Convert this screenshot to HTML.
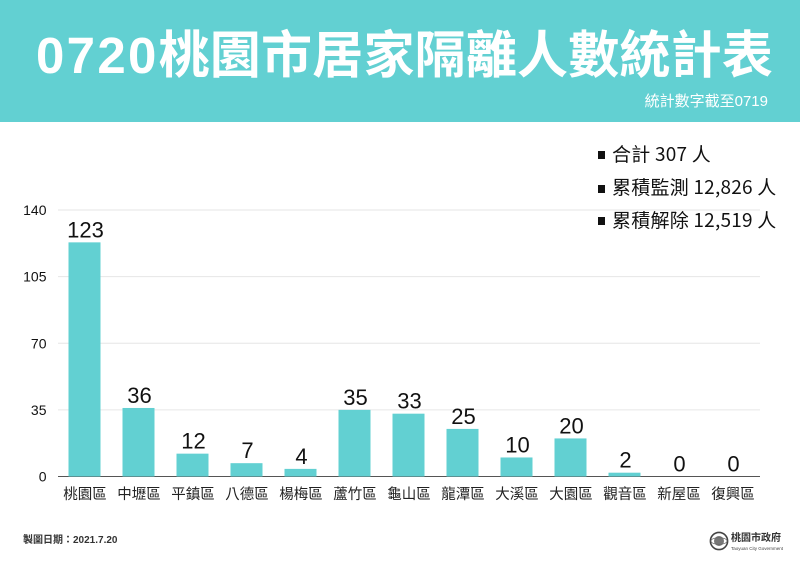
<!DOCTYPE html>
<html lang="zh-Hant">
<head>
<meta charset="utf-8">
<title>0720桃園市居家隔離人數統計表</title>
<style>
html,body{margin:0;padding:0;background:#fff;}
#page{position:relative;width:800px;height:565px;overflow:hidden;background:#fff;font-family:"Liberation Sans","Noto Sans CJK TC",sans-serif;}
#banner{position:absolute;left:0;top:0;width:800px;height:122px;background:#62d0d2;}
#chart{position:absolute;left:0;top:0;}
.abs{position:absolute;white-space:nowrap;}
.summary{font-family:"Noto Sans CJK TC",sans-serif;font-size:19px;line-height:24px;color:#111;letter-spacing:0.23px;}
</style>
</head>
<body>
<div id="page">
  <div id="banner"></div>
  <div class="abs" style="left:36px;top:26px;font-size:51px;line-height:60px;font-weight:700;color:#fff;letter-spacing:0.2px;"><span style="letter-spacing:2.3px;">0720</span>桃園市居家隔離人數統計表</div>
  <div class="abs" style="right:32px;top:93px;font-size:15px;line-height:18px;color:#fff;">統計數字截至0719</div>

  <svg id="chart" width="800" height="565" xmlns="http://www.w3.org/2000/svg"></svg>

  <div class="abs summary" style="left:612px;top:142px;">合計 307 人</div>
  <div class="abs summary" style="left:612px;top:175px;">累積監測 12,826 人</div>
  <div class="abs summary" style="left:612px;top:208px;">累積解除 12,519 人</div>
  <div class="abs" style="left:598px;top:151px;width:7px;height:8px;background:#111;"></div>
  <div class="abs" style="left:598px;top:185px;width:7px;height:8px;background:#111;"></div>
  <div class="abs" style="left:598px;top:217px;width:7px;height:8px;background:#111;"></div>

  <div class="abs" style="left:23px;top:534px;font-size:10px;line-height:14px;font-weight:700;color:#333;">製圖日期：2021.7.20</div>

  <svg class="abs" width="22" height="22" style="left:709px;top:530px;" xmlns="http://www.w3.org/2000/svg">
    <circle cx="10" cy="11" r="8.6" fill="none" stroke="#444" stroke-width="1.6"/>
    <circle cx="10" cy="11" r="5" fill="#777"/>
    <ellipse cx="10" cy="11" rx="8" ry="3.4" fill="none" stroke="#666" stroke-width="0.7"/>
  </svg>
  <div class="abs" style="left:731px;top:533px;font-size:10px;line-height:12px;font-weight:700;color:#333;letter-spacing:0px;">桃園市政府</div>
  <div class="abs" style="left:731px;top:546px;font-size:4.5px;line-height:5px;color:#444;">Taoyuan City Government</div>
</div>
<script>
const categories = ['桃園區','中壢區','平鎮區','八德區','楊梅區','蘆竹區','龜山區','龍潭區','大溪區','大園區','觀音區','新屋區','復興區'];
const seriesValues = [123,36,12,7,4,35,33,25,10,20,2,0,0];
const tickLabels = [0,35,70,105,140];

const svgNS = 'http://www.w3.org/2000/svg';
const chart = document.getElementById('chart');
const plotLeft = 58, plotRight = 760, plotBottom = 476.5, plotTop = 210;
const yMax = tickLabels[tickLabels.length - 1];
const barWidth = 32;
const band = (plotRight - plotLeft) / categories.length;

function yScale(v){ return plotBottom - (v / yMax) * (plotBottom - plotTop); }
function xCenter(i){ return plotLeft + band * (i + 0.5) - 0.5; }

function addShape(tag, attrs, text){
  const el = document.createElementNS(svgNS, tag);
  for (const k in attrs) el.setAttribute(k, attrs[k]);
  if (text !== undefined) el.textContent = text;
  chart.appendChild(el);
  return el;
}

tickLabels.forEach(function(t){
  const y = yScale(t);
  const grid = addShape('line', {x1: plotLeft, x2: plotRight, y1: y, y2: y, stroke: t === 0 ? '#555' : '#e6e6e6', 'stroke-width': 1});
  
  
  const label = addShape('text', {x: 46.5, y: y + 5, 'text-anchor': 'end', 'font-size': 14, fill: '#111'}, String(t));
  
  
});

seriesValues.forEach(function(v, i){
  const cx = xCenter(i);
  const top = yScale(v);
  const bar = addShape('rect', {x: cx - barWidth / 2, y: top, width: barWidth, height: plotBottom - top, fill: '#62d0d2'});
  
  
  const value = addShape('text', {x: cx + 1, y: top - 5, 'text-anchor': 'middle', 'font-size': 22, fill: '#111'}, String(v));
  
  
  const cat = addShape('text', {x: cx + 0.5, y: 499, 'text-anchor': 'middle', 'font-size': 14.5, fill: '#222'}, categories[i]);
  
  
});
</script>
</body>
</html>
